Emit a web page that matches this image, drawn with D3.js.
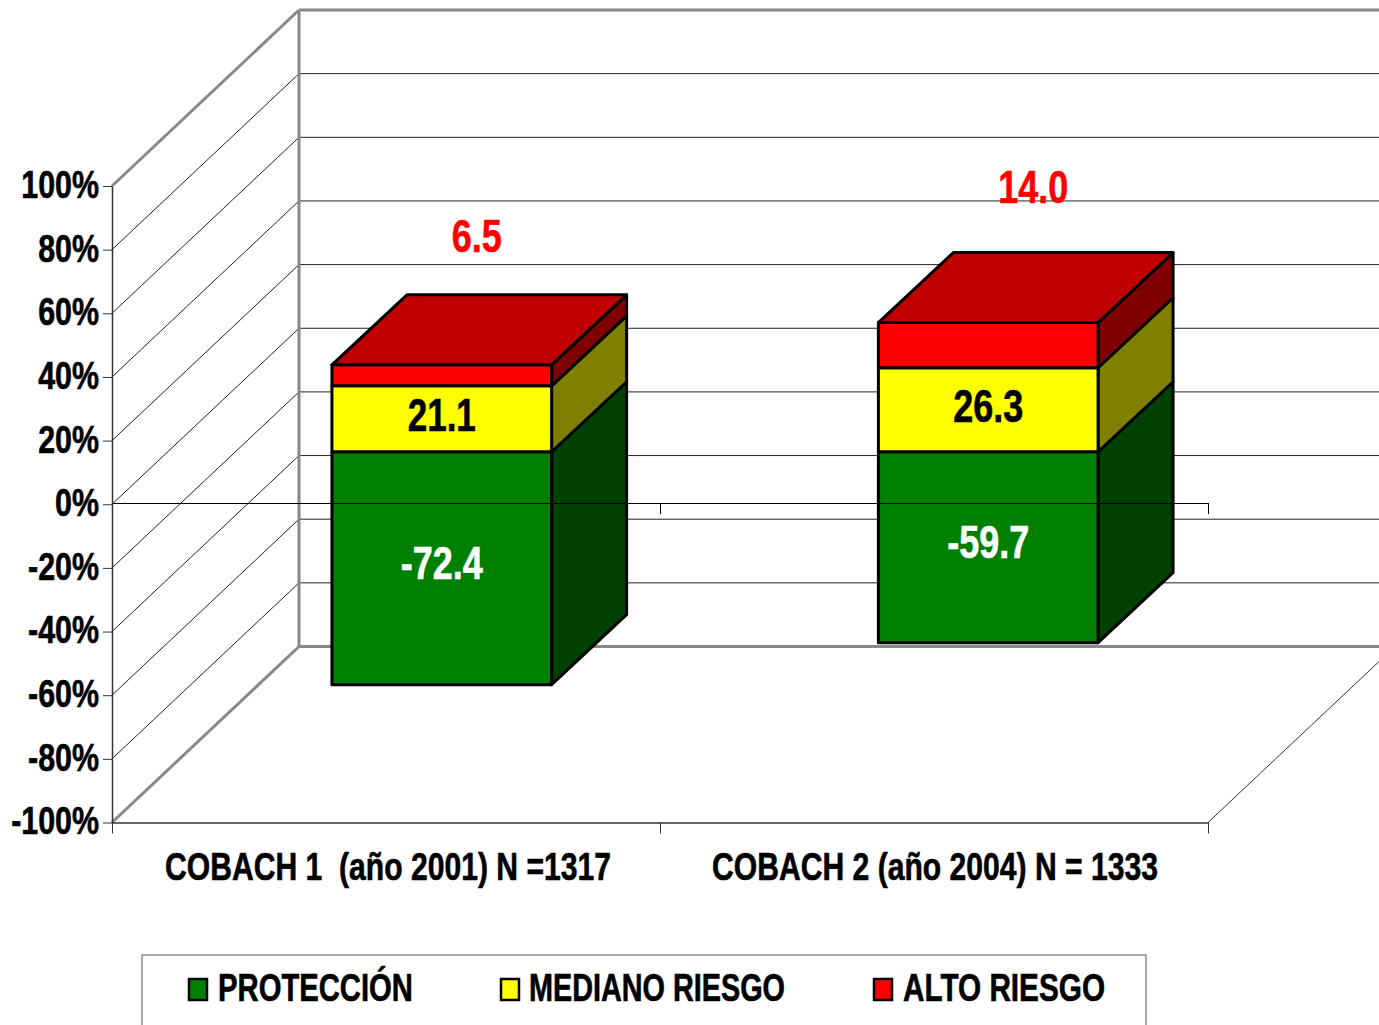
<!DOCTYPE html>
<html>
<head>
<meta charset="utf-8">
<script src="https://cdn.jsdelivr.net/npm/d3@7"></script>
<style>
  html, body { margin: 0; padding: 0; background: #fff; overflow: hidden; }
  svg { display: block; }
  text { font-family: "Liberation Sans", Arial, sans-serif; font-weight: bold; white-space: pre; }
</style>
</head>
<body>
<svg id="chart" width="1379" height="1025"></svg>
<script>
const categories = ['COBACH 1  (año 2001) N =1317', 'COBACH 2 (año 2004) N = 1333'];
const seriesNames = ['PROTECCIÓN', 'MEDIANO RIESGO', 'ALTO RIESGO'];
// bar heights as measured on the picture, they differ a little from the printed labels
const proteccion = [-73.2, -60.0];
const mediano = [20.7, 26.4];
const alto = [6.6, 14.2];
const proteccionLabels = ['-72.4', '-59.7'];
const medianoLabels = ['21.1', '26.3'];
const altoLabels = ['6.5', '14.0'];
const yTicks = [100, 80, 60, 40, 20, 0, -20, -40, -60, -80, -100];

const svg = d3.select('#chart');

const plot = { left: 112, right: 1208, top: 186, bottom: 822.5 };
const depth = { x: 187, y: -176 };        // floor depth of the whole 3d box
const barShift = { x: 56, y: -52.5 };     // front of the bars inside the box
const barDepth = { x: 75, y: -70 };

const yScale = d3.scaleLinear().domain([-100, 100]).range([plot.bottom, plot.top]);
const xBand = d3.scaleBand().domain(categories)
  .range([plot.left, plot.right - 2]).paddingInner(0.598).paddingOuter(0.3);
const xEdge = d3.scaleLinear().domain([0, 2]).range([plot.left, plot.right]);

const colors = {
  front: ['#008000', '#ffff00', '#ff0000'],
  side: ['#004000', '#808000', '#800000'],
  top: '#c00000'
};

// walls and gridlines
const wall = svg.append('g').attr('fill', 'none');
const backLeft = plot.left + depth.x;
const backRight = plot.right + depth.x;

yTicks.forEach(t => {
  const edge = Math.abs(t) === 100;
  wall.append('line')
    .attr('x1', plot.left).attr('y1', yScale(t))
    .attr('x2', backLeft).attr('y2', yScale(t) + depth.y)
    .attr('stroke', edge ? '#888' : '#222')
    .attr('stroke-width', edge ? 3 : 1);
  wall.append('line')
    .attr('x1', backLeft).attr('y1', yScale(t) + depth.y)
    .attr('x2', backRight).attr('y2', yScale(t) + depth.y)
    .attr('stroke', edge ? '#888' : '#222')
    .attr('stroke-width', edge ? 3 : 1);
});

wall.append('line')
  .attr('x1', backLeft).attr('y1', yScale(100) + depth.y)
  .attr('x2', backLeft).attr('y2', yScale(-100) + depth.y)
  .attr('stroke', '#888').attr('stroke-width', 3);

wall.append('line')
  .attr('x1', plot.right).attr('y1', plot.bottom)
  .attr('x2', backRight).attr('y2', plot.bottom + depth.y)
  .attr('stroke', '#333').attr('stroke-width', 1);

// stacked 3d bars
const rows = categories.map((c, i) => ({
  category: c,
  [seriesNames[0]]: proteccion[i],
  [seriesNames[1]]: mediano[i],
  [seriesNames[2]]: alto[i]
}));
const stacked = d3.stack().keys(seriesNames).offset(d3.stackOffsetDiverging)(rows);

const poly = pts => pts.map(p => p.join(',')).join(' ');
const bars = svg.append('g')
  .attr('stroke', '#000').attr('stroke-width', 3).attr('stroke-linejoin', 'round');

stacked.forEach((layer, s) => {
  layer.forEach((d, i) => {
    const x0 = xBand(d.data.category) + barShift.x;
    const x1 = x0 + xBand.bandwidth();
    const yA = yScale(d[1]) + barShift.y;
    const yB = yScale(d[0]) + barShift.y;
    bars.append('polygon')
      .attr('points', poly([[x1, yA], [x1 + barDepth.x, yA + barDepth.y], [x1 + barDepth.x, yB + barDepth.y], [x1, yB]]))
      .attr('fill', colors.side[s]);
    bars.append('rect')
      .attr('x', x0).attr('y', yA)
      .attr('width', x1 - x0).attr('height', yB - yA)
      .attr('fill', colors.front[s]);
    if(s === stacked.length - 1) {
      bars.append('polygon')
        .attr('points', poly([[x0, yA], [x0 + barDepth.x, yA + barDepth.y], [x1 + barDepth.x, yA + barDepth.y], [x1, yA]]))
        .attr('fill', colors.top);
    }
  });
});

// axes
const axisConfig = (AxisG, color) => {
  AxisG.selectAll('.domain').attr('stroke', color).attr('stroke-width', 1.5);
  AxisG.selectAll('line').attr('stroke', color);
  AxisG.selectAll('text').remove();
};

svg.append('g')
  .attr('transform', `translate(0, 503)`)
  .call(d3.axisBottom(xEdge).tickValues([1, 2]).tickSize(11).tickSizeOuter(0).tickFormat(''))
  .call(axisConfig, '#000')
  .select('.domain').attr('stroke-width', 1);

svg.append('g')
  .attr('transform', `translate(0, ${plot.bottom})`)
  .call(d3.axisBottom(xEdge).tickValues([0, 1, 2]).tickSize(11).tickSizeOuter(0).tickFormat(''))
  .call(axisConfig, '#333');

const tickScaleX = 0.8;
const yAxisG = svg.append('g')
  .attr('transform', `translate(${plot.left}, 0)`)
  .call(d3.axisLeft(yScale).tickValues(yTicks).tickSize(9).tickSizeOuter(0).tickFormat(d => d + '%'));
yAxisG.select('.domain').attr('stroke', '#333').attr('stroke-width', 1.5);
yAxisG.selectAll('line').attr('stroke', '#333');
yAxisG.selectAll('text')
  .attr('font-size', 38)
  .attr('fill', '#000')
  .attr('stroke', '#000')
  .attr('stroke-width', 0.6)
  .attr('dy', '0.3em')
  .attr('x', -13 / tickScaleX)
  .attr('transform', `scale(${tickScaleX}, 1)`);

// squeezed text helper, the source font is a narrow bold one
const addText = (x, y, str, size, width, fill) => svg.append('text')
  .attr('x', x).attr('y', y)
  .attr('font-size', size)
  .attr('fill', fill)
  .attr('stroke', fill)
  .attr('stroke-width', 0.6)
  .attr('textLength', width)
  .attr('lengthAdjust', 'spacingAndGlyphs')
  .text(str);

const catX = [165, 712];
categories.forEach((c, i) => addText(catX[i], 880, c, 38, 446, '#000'));

// data labels
const labelWidth = { '-72.4': 82, '-59.7': 82, '21.1': 68, '26.3': 70, '6.5': 50, '14.0': 70 };
const centerLabel = (cx, cy, str, fill) =>
  addText(cx - labelWidth[str] / 2, cy + 14, str, 46, labelWidth[str], fill);

stacked.forEach((layer, s) => {
  layer.forEach((d, i) => {
    const cx = xBand(d.data.category) + barShift.x + xBand.bandwidth() / 2;
    const yA = yScale(d[1]) + barShift.y;
    const yB = yScale(d[0]) + barShift.y;
    if(s === 0) centerLabel(cx, (yA + yB) / 2 - 3, proteccionLabels[i], '#fff');
    if(s === 1) centerLabel(cx, (yA + yB) / 2 - 2, medianoLabels[i], '#000');
    if(s === 2) centerLabel(cx + (i === 0 ? 35 : 45), yA - (i === 0 ? 127 : 134), altoLabels[i], '#f00');
  });
});

// legend, runs off the bottom of the page like in the source
svg.append('rect')
  .attr('x', 142).attr('y', 955)
  .attr('width', 1004).attr('height', 90)
  .attr('fill', '#fff').attr('stroke', '#555').attr('stroke-width', 1);

const legendX = [188, 500, 873];
const legendTextX = [218, 529, 903];
const legendWidth = [195, 256, 202];
seriesNames.forEach((name, i) => {
  svg.append('rect')
    .attr('x', legendX[i] + 1).attr('y', 979)
    .attr('width', 18).attr('height', 21)
    .attr('fill', colors.front[i])
    .attr('stroke', '#000').attr('stroke-width', 2.5);
  addText(legendTextX[i], 1001, name, 38, legendWidth[i], '#000');
});
</script>
</body>
</html>
